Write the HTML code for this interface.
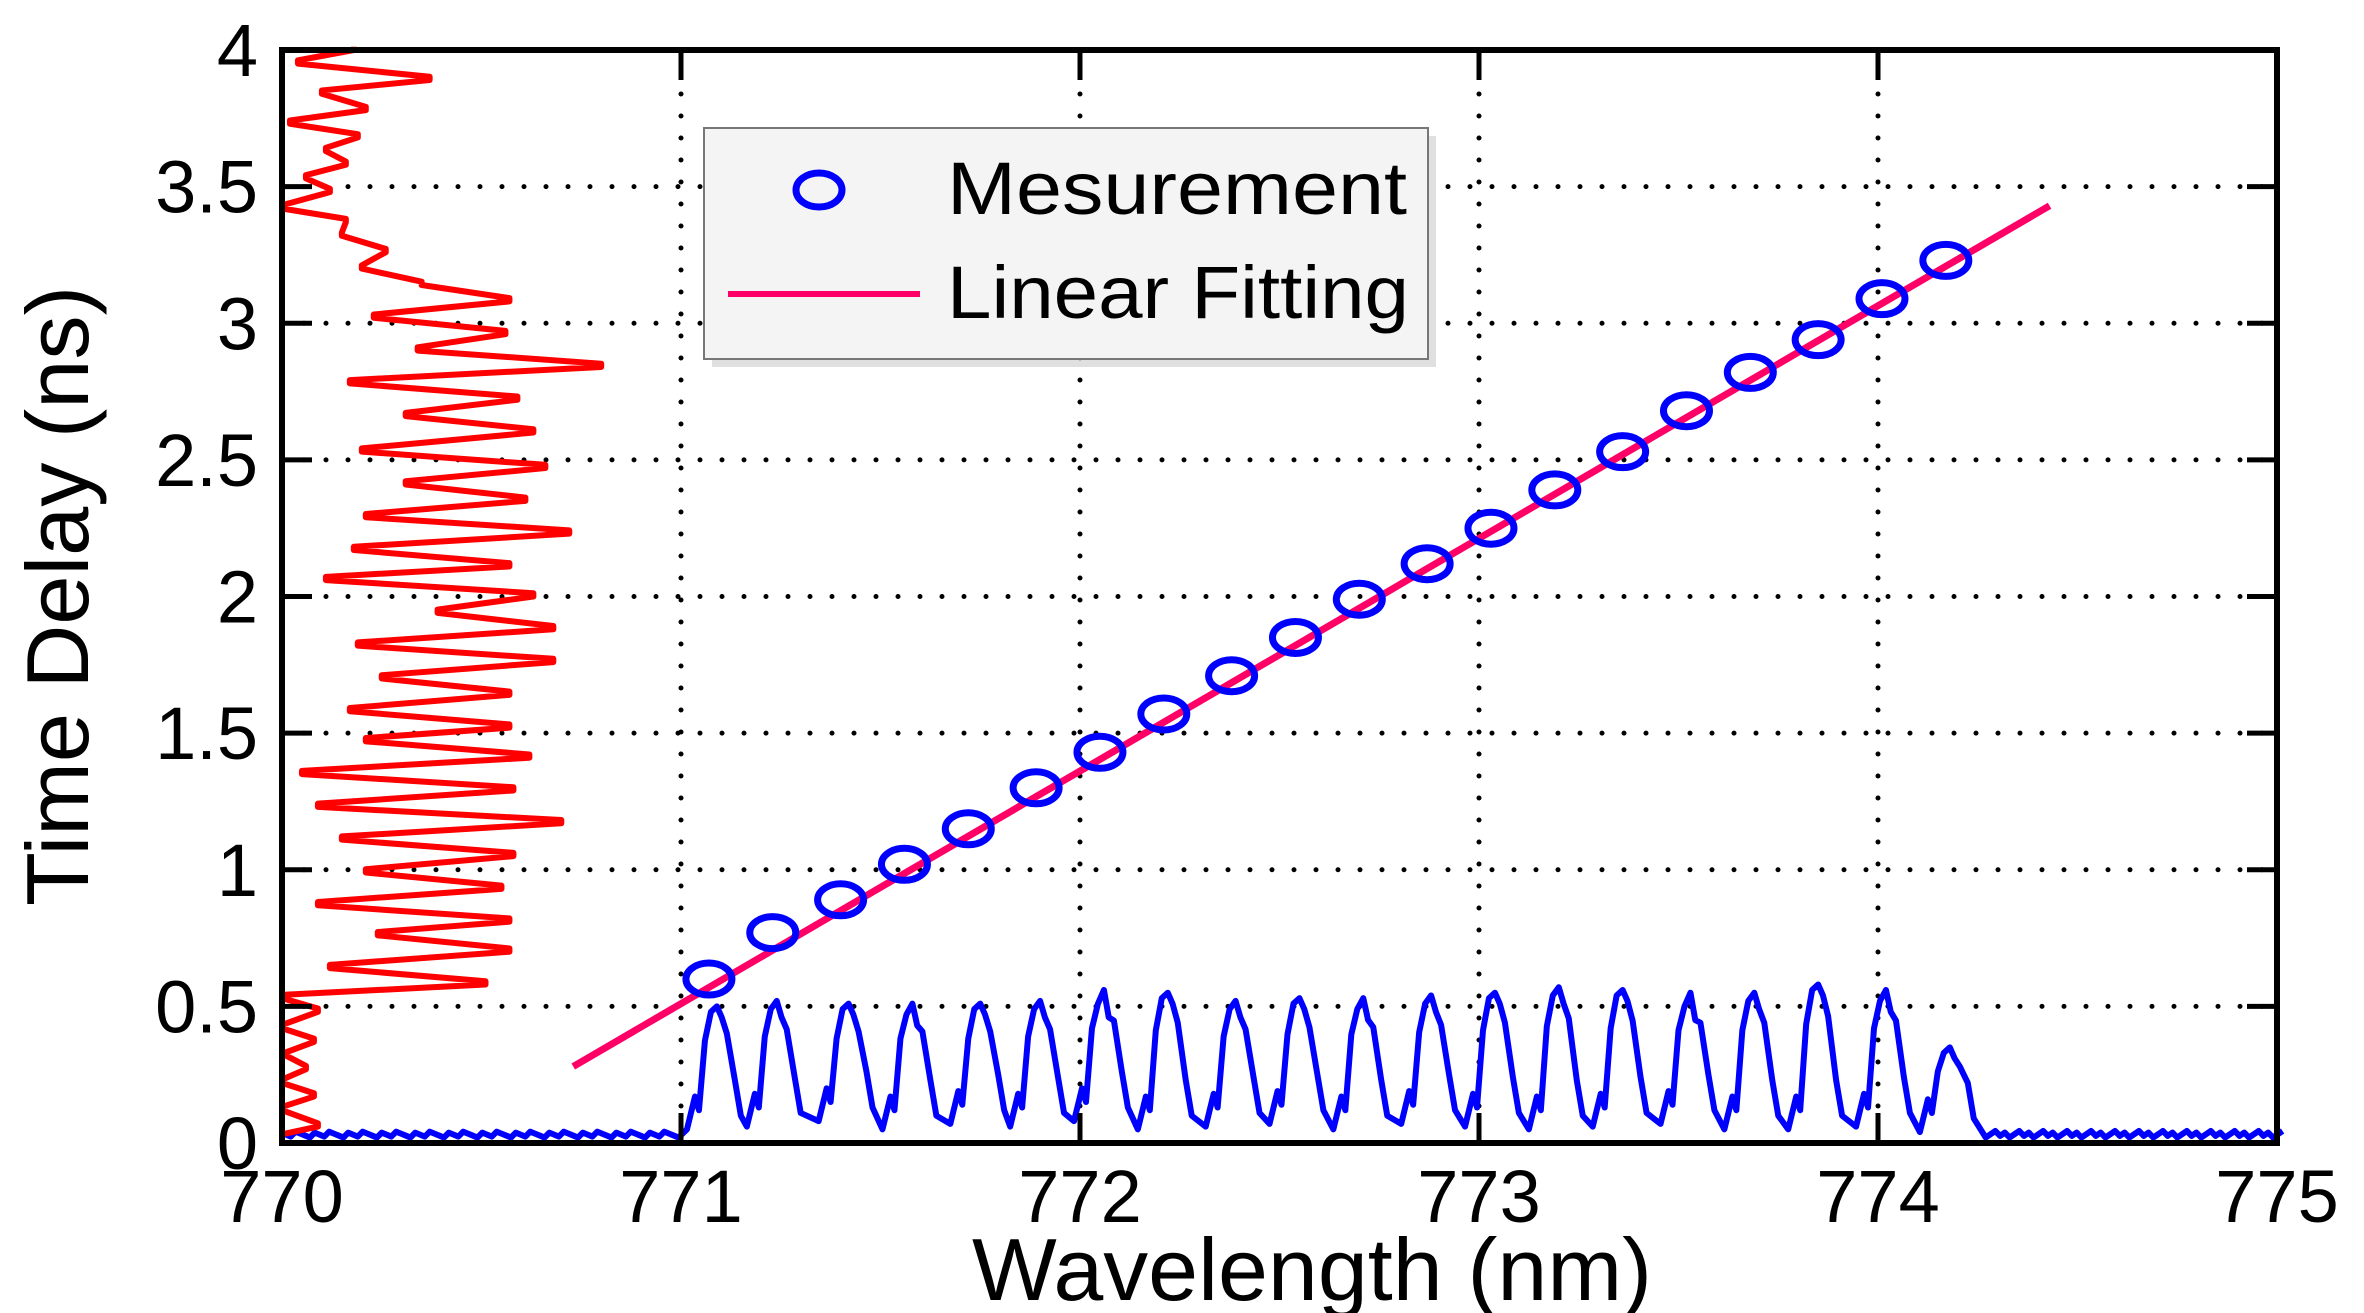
<!DOCTYPE html>
<html><head><meta charset="utf-8"><style>
html,body{margin:0;padding:0;background:#fff;}
svg{display:block;font-family:"Liberation Sans","DejaVu Sans",sans-serif;}
</style></head><body>
<svg id="chart" width="2364" height="1313" viewBox="0 0 2364 1313">
<g id="grid"></g>
<g id="series"></g>
<g id="axes"></g>
<text transform="translate(88,596) rotate(-90)" text-anchor="middle" font-size="88" textLength="620" lengthAdjust="spacingAndGlyphs">Time Delay (ns)</text>
<text x="1312" y="1300" text-anchor="middle" font-size="88" textLength="680" lengthAdjust="spacingAndGlyphs">Wavelength (nm)</text>
<g>
<rect x="712" y="136" width="724" height="231" fill="#ccc" opacity="0.6"/>
<rect x="704" y="128" width="724" height="231" fill="#f4f4f4" stroke="#777" stroke-width="2"/>
<ellipse cx="819" cy="190" rx="23" ry="17" fill="none" stroke="#0000ff" stroke-width="7"/>
<text x="947" y="214" font-size="74" textLength="460" lengthAdjust="spacingAndGlyphs">Mesurement</text>
<line x1="728" y1="294" x2="920" y2="294" stroke="#ff0066" stroke-width="6"/>
<text x="947" y="318" font-size="74" textLength="462" lengthAdjust="spacingAndGlyphs">Linear Fitting</text>
</g>
</svg>
<script>
// ---- data ----
const xTicks=[770,771,772,773,774,775];
const yTicks=[0,0.5,1,1.5,2,2.5,3,3.5,4];
const yTickLabels=["0","0.5","1","1.5","2","2.5","3","3.5","4"];
const measWl=[771.07,771.23,771.40,771.56,771.72,771.89,772.05,772.21,772.38,772.54,772.70,772.87,773.03,773.19,773.36,773.52,773.68,773.85,774.01,774.17];
const measDelay=[0.60,0.77,0.89,1.02,1.15,1.30,1.43,1.57,1.71,1.85,1.99,2.12,2.25,2.39,2.53,2.68,2.82,2.94,3.09,3.23];
const fitWl=[770.73,774.43];
const fitDelay=[0.28,3.43];
// blue spectrum: peak positions and heights
const specPeakWl=[771.09,771.24,771.42,771.58,771.75,771.90,772.06,772.22,772.39,772.55,772.71,772.88,773.04,773.20,773.36,773.53,773.69,773.85,774.02,774.18];
const specPeakVal=[0.50,0.52,0.51,0.51,0.51,0.52,0.56,0.55,0.52,0.53,0.53,0.54,0.55,0.57,0.56,0.55,0.55,0.58,0.56,0.35];
const specTroughVal=[0.05,0.06,0.08,0.05,0.07,0.06,0.08,0.05,0.06,0.07,0.05,0.07,0.06,0.05,0.06,0.07,0.05,0.05,0.06,0.04];
const specNoise=[0.02,0.03,0.02,0.04,0.02,0.03,0.05,0.02,0.03,0.02,0.04,0.03,0.02,0.03,0.02,0.05,0.03,0.02,0.04,0.02];
// red temporal trace: alternating extremes (time, wavelength)
const redT=[0.02,0.06,0.12,0.17,0.22,0.27,0.32,0.37,0.42,0.48,0.53,0.58,0.64,0.70,0.76,0.81,0.87,0.93,0.99,1.05,1.11,1.17,1.23,1.29,1.35,1.41,1.47,1.52,1.58,1.64,1.70,1.76,1.82,1.88,1.94,2.00,2.06,2.11,2.17,2.23,2.29,2.35,2.41,2.47,2.53,2.60,2.66,2.72,2.78,2.84,2.90,2.96,3.02,3.08,3.14,3.20,3.26,3.32,3.37,3.42,3.48,3.53,3.58,3.63,3.68,3.73,3.78,3.84,3.89,3.95,4.00];
const redW=[770.00,770.09,770.00,770.08,770.00,770.06,770.01,770.08,770.00,770.09,770.00,770.51,770.12,770.57,770.24,770.57,770.09,770.55,770.21,770.58,770.15,770.70,770.09,770.58,770.05,770.62,770.21,770.57,770.17,770.57,770.25,770.68,770.19,770.68,770.39,770.63,770.11,770.57,770.18,770.72,770.21,770.61,770.31,770.66,770.20,770.63,770.31,770.59,770.17,770.80,770.34,770.56,770.23,770.57,770.35,770.20,770.26,770.15,770.16,770.00,770.12,770.06,770.16,770.11,770.19,770.02,770.21,770.10,770.37,770.04,770.18];
// ---- scales ----
const X0=282,X1=2277,Y0=1143,Y1=50;
const sx=v=>X0+(v-770)/5*(X1-X0);
const sy=v=>Y0-(v/4)*(Y0-Y1);
const NS="http://www.w3.org/2000/svg";
function mk(tag,parent,attrs){const e=document.createElementNS(NS,tag);for(const k in attrs)e.setAttribute(k,attrs[k]);parent.appendChild(e);return e;}
const grid=document.getElementById('grid'),axes=document.getElementById('axes'),ser=document.getElementById('series');
// grid
xTicks.slice(1,-1).forEach(t=>{const l=mk('line',grid,{x1:sx(t),x2:sx(t),y1:Y1,y2:Y0,stroke:'#000','stroke-width':5,'stroke-dasharray':'0 22','stroke-linecap':'round'});

});
yTicks.slice(1,-1).forEach(t=>{const l=mk('line',grid,{x1:X0,x2:X1,y1:sy(t),y2:sy(t),stroke:'#000','stroke-width':5,'stroke-dasharray':'0 22','stroke-linecap':'round'});

});
// blue spectrum
let pts=[];
for(let x=770.01;x<771.0;x+=0.012){pts.push([x,0.02+((Math.round(x*1000)%7)/7)*0.025]);}
specPeakWl.forEach((p,i)=>{
  const tr=specTroughVal[i],pk=specPeakVal[i],n=specNoise[i];
  pts.push([p-0.075,tr]);pts.push([p-0.055,tr+0.12]);pts.push([p-0.045,tr+0.07]);
  pts.push([p-0.03,pk*0.75]);pts.push([p-0.015,pk-n]);pts.push([p,pk]);
  pts.push([p+0.012,pk-n*2]);pts.push([p+0.025,pk*0.8]);pts.push([p+0.045,tr+0.18]);pts.push([p+0.06,tr+0.05]);
});
for(let x=774.27;x<775.02;x+=0.012){pts.push([x,0.02+((Math.round(x*1000)%5)/5)*0.03]);}
const bl=mk('polyline',ser,{points:pts.map(p=>sx(p[0])+','+sy(p[1])).join(' '),fill:'none',stroke:'#0000ff','stroke-width':6,'stroke-linejoin':'round'});


// red trace
let rp=[];
redT.forEach((t,i)=>{rp.push([redW[i],t]);rp.push([redW[i],t+0.012]);});
const rl=mk('polyline',ser,{points:rp.map(p=>sx(p[0])+','+sy(p[1])).join(' '),fill:'none',stroke:'#ff0000','stroke-width':6,'stroke-linejoin':'round'});


// fit line
const fl=mk('line',ser,{x1:sx(fitWl[0]),y1:sy(fitDelay[0]),x2:sx(fitWl[1]),y2:sy(fitDelay[1]),stroke:'#ff0066','stroke-width':7});


// markers
measWl.forEach((w,i)=>{const e=mk('ellipse',ser,{cx:sx(w),cy:sy(measDelay[i]),rx:23,ry:16,fill:'none',stroke:'#0000ff','stroke-width':7});

});
// axes frame
const fr=mk('rect',axes,{x:X0,y:Y1,width:X1-X0,height:Y0-Y1,fill:'none',stroke:'#000','stroke-width':6});


yTicks.forEach((t,i)=>{
  mk('line',axes,{x1:X0,x2:X0+30,y1:sy(t),y2:sy(t),stroke:'#000','stroke-width':5});
  mk('line',axes,{x1:X1-30,x2:X1,y1:sy(t),y2:sy(t),stroke:'#000','stroke-width':5});
  const tx=mk('text',axes,{x:258,y:sy(t)+26,'text-anchor':'end','font-size':74});
  tx.textContent=yTickLabels[i];
  
  
});
xTicks.forEach(t=>{
  mk('line',axes,{x1:sx(t),x2:sx(t),y1:Y0,y2:Y0-30,stroke:'#000','stroke-width':5});
  mk('line',axes,{x1:sx(t),x2:sx(t),y1:Y1,y2:Y1+30,stroke:'#000','stroke-width':5});
  const tx=mk('text',axes,{x:sx(t),y:1222,'text-anchor':'middle','font-size':74});
  tx.textContent=String(t);
  
  
});
</script>
</body></html>
